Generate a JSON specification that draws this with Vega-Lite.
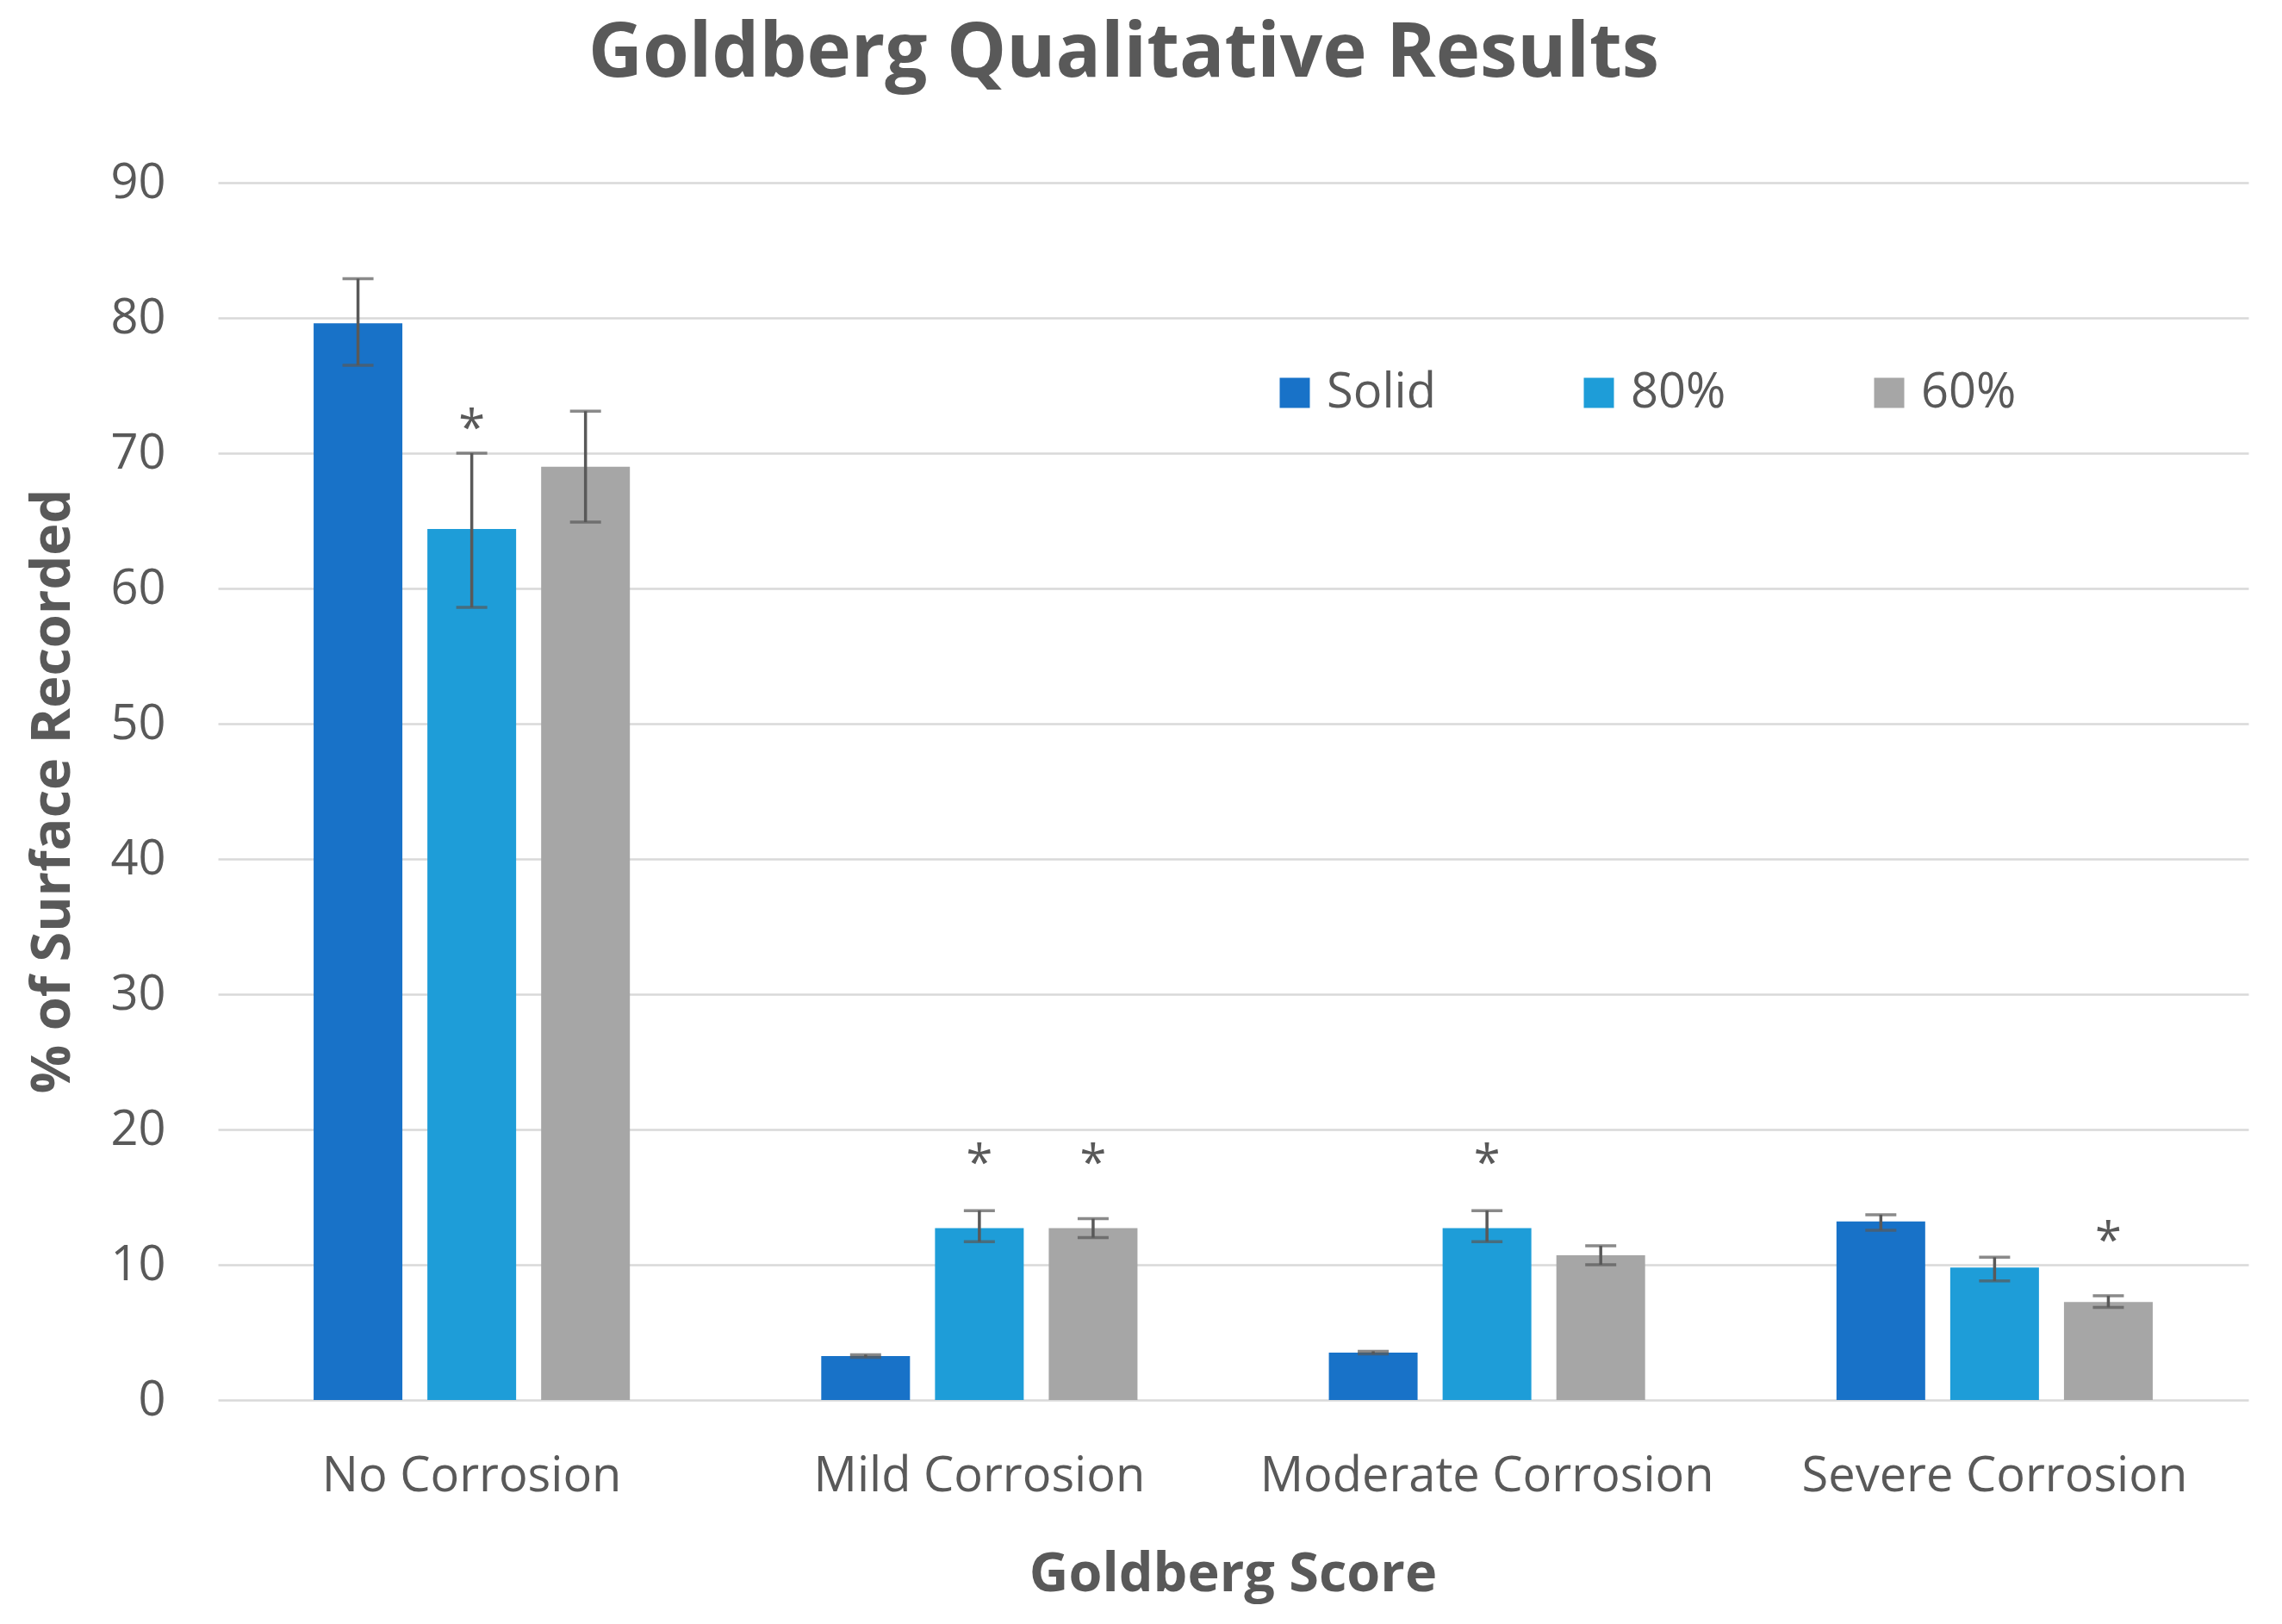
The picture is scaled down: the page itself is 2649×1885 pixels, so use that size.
{
  "$schema": "https://vega.github.io/schema/vega-lite/v6.json",
  "autosize": {"type": "none"},
  "padding": {"left": 253, "top": 212, "right": 39, "bottom": 260},
  "width": 2357,
  "height": 1413,
  "background": "white",
  "title": {
    "text": "Goldberg Qualitative Results",
    "frame": "group",
    "anchor": "middle",
    "baseline": "alphabetic",
    "offset": 8,
    "dx": -127,
    "font": "Open Sans",
    "fontSize": 87,
    "fontWeight": "bold",
    "color": "#595959"
  },
  "data": {
    "values": [
      {"score": "No Corrosion", "series": "Solid", "value": 79.6, "lo": 76.5, "hi": 82.9, "star": null},
      {"score": "No Corrosion", "series": "80%", "value": 64.4, "lo": 58.6, "hi": 70.0, "star": "*", "starY": 72.6},
      {"score": "No Corrosion", "series": "60%", "value": 69.0, "lo": 64.9, "hi": 73.1, "star": null},
      {"score": "Mild Corrosion", "series": "Solid", "value": 3.25, "lo": 3.15, "hi": 3.35, "star": null},
      {"score": "Mild Corrosion", "series": "80%", "value": 12.7, "lo": 11.7, "hi": 14.0, "star": "*", "starY": 18.3},
      {"score": "Mild Corrosion", "series": "60%", "value": 12.7, "lo": 12.0, "hi": 13.4, "star": "*", "starY": 18.3},
      {"score": "Moderate Corrosion", "series": "Solid", "value": 3.5, "lo": 3.4, "hi": 3.6, "star": null},
      {"score": "Moderate Corrosion", "series": "80%", "value": 12.7, "lo": 11.7, "hi": 14.0, "star": "*", "starY": 18.3},
      {"score": "Moderate Corrosion", "series": "60%", "value": 10.7, "lo": 10.0, "hi": 11.4, "star": null},
      {"score": "Severe Corrosion", "series": "Solid", "value": 13.2, "lo": 12.55, "hi": 13.7, "star": null},
      {"score": "Severe Corrosion", "series": "80%", "value": 9.8, "lo": 8.8, "hi": 10.55, "star": null},
      {"score": "Severe Corrosion", "series": "60%", "value": 7.25, "lo": 6.85, "hi": 7.7, "star": "*", "starY": 12.55}
    ]
  },
  "encoding": {
    "x": {
      "field": "score",
      "type": "nominal",
      "sort": ["No Corrosion", "Mild Corrosion", "Moderate Corrosion", "Severe Corrosion"],
      "scale": {"paddingInner": 0.377, "paddingOuter": 0.1885},
      "axis": {
        "title": "Goldberg Score",
        "labelAngle": 0,
        "labelLimit": 0,
        "ticks": false,
        "domain": false,
        "grid": false,
        "labelFont": "Open Sans",
        "labelFontSize": 56,
        "labelColor": "#595959",
        "labelBaseline": "alphabetic",
        "labelPadding": 105,
        "titleFont": "Open Sans",
        "titleFontSize": 63,
        "titleFontWeight": "bold",
        "titleColor": "#595959",
        "titleBaseline": "alphabetic",
        "titleY": 221,
        "titleX": 1178
      }
    },
    "xOffset": {
      "field": "series",
      "type": "nominal",
      "sort": ["Solid", "80%", "60%"],
      "scale": {"paddingInner": 0.22, "paddingOuter": 0}
    }
  },
  "layer": [
    {
      "mark": {"type": "bar"},
      "encoding": {
        "y": {
          "field": "value",
          "type": "quantitative",
          "scale": {"domain": [0, 90], "nice": false},
          "axis": {
            "title": "% of Surface Recorded",
            "values": [0, 10, 20, 30, 40, 50, 60, 70, 80, 90],
            "ticks": false,
            "domain": false,
            "grid": true,
            "gridColor": "#D9D9D9",
            "gridWidth": 2.5,
            "labelFont": "Open Sans",
            "labelFontSize": 56,
            "labelColor": "#595959",
            "labelPadding": 61,
            "titleFont": "Open Sans",
            "titleFontSize": 63,
            "titleFontWeight": "bold",
            "titleColor": "#595959",
            "titleAngle": -90,
            "titleBaseline": "alphabetic",
            "titleAlign": "center",
            "titleX": -173,
            "titleY": 706
          }
        },
        "color": {
          "field": "series",
          "type": "nominal",
          "sort": ["Solid", "80%", "60%"],
          "scale": {"domain": ["Solid", "80%", "60%"], "range": ["#1872C8", "#1E9DD8", "#A6A6A6"]},
          "legend": {
            "title": null,
            "orient": "none",
            "direction": "horizontal",
            "legendX": 1222,
            "legendY": 216,
            "padding": 0,
            "symbolType": "square",
            "symbolSize": 1225,
            "symbolStrokeWidth": 0,
            "labelFont": "Open Sans",
            "labelFontSize": 56,
            "labelColor": "#595959",
            "labelOffset": 9,
            "columnPadding": 161
          }
        }
      }
    },
    {
      "mark": {"type": "rule", "color": "#595959", "strokeWidth": 3.5},
      "encoding": {
        "y": {"field": "lo", "type": "quantitative"},
        "y2": {"field": "hi"}
      }
    },
    {
      "mark": {"type": "tick", "color": "#595959", "size": 36, "thickness": 3.5},
      "encoding": {
        "y": {"field": "lo", "type": "quantitative"}
      }
    },
    {
      "mark": {"type": "tick", "color": "#595959", "size": 36, "thickness": 3.5},
      "encoding": {
        "y": {"field": "hi", "type": "quantitative"}
      }
    },
    {
      "transform": [{"filter": "datum.star != null"}],
      "mark": {"type": "text", "font": "Open Sans", "fontSize": 56, "color": "#595959", "baseline": "alphabetic", "dy": 31},
      "encoding": {
        "y": {"field": "starY", "type": "quantitative"},
        "text": {"field": "star"}
      }
    }
  ],
  "config": {
    "view": {"stroke": null}
  }
}
